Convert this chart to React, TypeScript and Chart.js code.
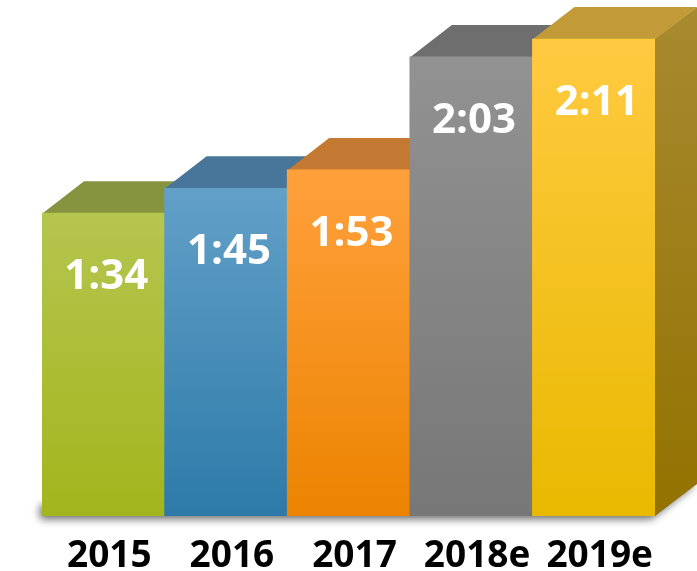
import React, { useEffect, useRef } from "react";
import { Chart, registerables } from "chart.js";

Chart.register(...registerables);

// ---- data ----
const categories = ["2015", "2016", "2017", "2018e", "2019e"];
// bar heights as drawn in the picture (chart units, axis 0..100)
const barHeights = [59.5, 64.4, 68.0, 90.2, 93.7];
// value labels shown on the bars (h:mm)
const timeLabels = ["1:34", "1:45", "1:53", "2:03", "2:11"];

// ---- styles ----
const frontTop = ["#b5c54f", "#62a0c8", "#ffa03c", "#929292", "#ffca40"];
const frontBottom = ["#a3b51c", "#2d7aa9", "#ec8400", "#777777", "#e9b900"];
const topFace = ["#86943f", "#48769a", "#c47932", "#6e6e6e", "#c29a37"];
const sideTop = "#a88a30";
const sideBottom = "#937200";
const DX = 42;
const DY = 32;

const barsPlugin = {
  id: "bars3d",
  beforeDatasetsDraw(chart: any) {
    const ctx = chart.ctx as CanvasRenderingContext2D;
    const meta = chart.getDatasetMeta(0);
    const bars = meta.data.map((b: any) => b.getProps(["x", "y", "base", "width"], true));
    if (!bars.length) return;
    const first = bars[0];
    const last = bars[bars.length - 1];
    const l0 = first.x - first.width / 2;
    const rN = last.x + last.width / 2;
    const base = first.base;
    ctx.save();
    // drop shadow near the floor
    ctx.shadowColor = "rgba(0,0,0,0.6)";
    ctx.shadowBlur = 8;
    ctx.shadowOffsetX = -4;
    ctx.shadowOffsetY = 3;
    ctx.fillStyle = "#777";
    ctx.beginPath();
    ctx.moveTo(l0 + 2, base - 14);
    ctx.lineTo(rN, base - 14);
    ctx.lineTo(rN + DX - 1, base - 14 - DY);
    ctx.lineTo(rN + DX - 1, base - DY);
    ctx.lineTo(rN, base);
    ctx.lineTo(l0 + 2, base);
    ctx.closePath();
    ctx.fill();
    ctx.restore();

    ctx.save();
    bars.forEach((b: any, i: number) => {
      const l = b.x - b.width / 2;
      const r = b.x + b.width / 2;
      // side face
      const g = ctx.createLinearGradient(0, b.y - DY, 0, b.base);
      g.addColorStop(0, sideTop);
      g.addColorStop(1, sideBottom);
      ctx.fillStyle = g;
      ctx.beginPath();
      ctx.moveTo(r - 0.5, b.y);
      ctx.lineTo(r + DX, b.y - DY);
      ctx.lineTo(r + DX, b.base - DY);
      ctx.lineTo(r - 0.5, b.base);
      ctx.closePath();
      ctx.fill();
      // top face
      ctx.fillStyle = topFace[i];
      ctx.beginPath();
      ctx.moveTo(l, b.y + 0.5);
      ctx.lineTo(l + DX, b.y - DY);
      ctx.lineTo(r + DX, b.y - DY);
      ctx.lineTo(r, b.y + 0.5);
      ctx.closePath();
      ctx.fill();
    });
    ctx.restore();
  },
  afterDatasetsDraw(chart: any) {
    const ctx = chart.ctx as CanvasRenderingContext2D;
    const meta = chart.getDatasetMeta(0);
    ctx.save();
    ctx.fillStyle = "#ffffff";
    ctx.font = "bold 42px 'Open Sans'";
    ctx.textAlign = "center";
    ctx.textBaseline = "middle";
    meta.data.forEach((bar: any, i: number) => {
      const p = bar.getProps(["x", "y"], true);
      ctx.fillText(timeLabels[i], p.x + 3, p.y + 64);
    });
    ctx.restore();
  },
};

export default function App() {
  const ref = useRef<HTMLCanvasElement | null>(null);
  useEffect(() => {
    if (!ref.current) return;
    const chart = new Chart(ref.current, {
      type: "bar",
      data: {
        labels: categories,
        datasets: [
          {
            data: barHeights,
            categoryPercentage: 1,
            barPercentage: 1,
            borderWidth: 0,
            backgroundColor: (c: any) => {
              const i = c.dataIndex ?? 0;
              const ch = c.chart;
              if (!ch.chartArea) return frontTop[i];
              const ys = ch.scales.y;
              const top = ys.getPixelForValue(barHeights[i]);
              const bottom = ys.getPixelForValue(0);
              const g = ch.ctx.createLinearGradient(0, top, 0, bottom);
              g.addColorStop(0, frontTop[i]);
              g.addColorStop(1, frontBottom[i]);
              return g;
            },
          },
        ],
      },
      options: {
        animation: false,
        responsive: true,
        maintainAspectRatio: false,
        layout: { padding: { top: 7, left: 42, right: 42, bottom: -25 } },
        plugins: { legend: { display: false }, tooltip: { enabled: false } },
        scales: {
          x: {
            grid: { display: false, drawTicks: false },
            border: { display: false },
            ticks: {
              color: "#000000",
              font: { family: "'Open Sans'", size: 37, weight: "bold", lineHeight: 0.81 },
              padding: 25,
              labelOffset: 6,
              maxRotation: 0,
              autoSkip: false,
            },
          },
          y: { display: false, min: 0, max: 100 },
        },
      },
      plugins: [barsPlugin],
    });
    return () => chart.destroy();
  }, []);
  return (
    <div style={{ position: "fixed", left: 0, top: 0, width: 697, height: 571, background: "#fff" }}>
      <canvas ref={ref} />
    </div>
  );
}
